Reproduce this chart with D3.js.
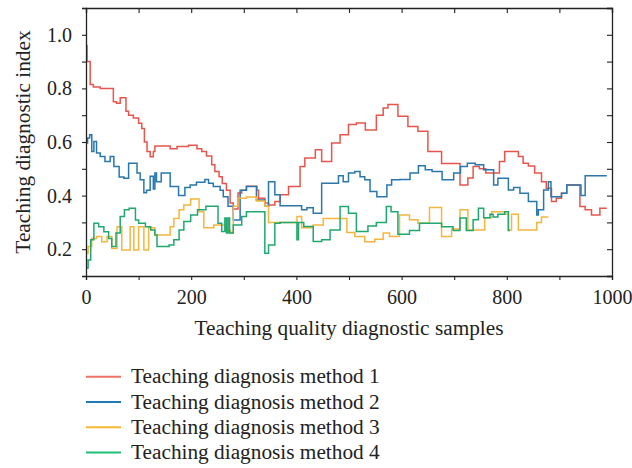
<!DOCTYPE html>
<html>
<head>
<meta charset="utf-8">
<script src="https://cdn.jsdelivr.net/npm/d3@7"></script>
<style>
  body { margin: 0; background: #ffffff; }
</style>
</head>
<body>
<div id="my_dataviz"></div>
<script>
// step series: [sample, index], each value holds until the next sample
var method1 = [[0,0.96],[2,0.90],[8,0.815],[14,0.805],[27,0.80],[52,0.75],[58,0.745],[65,0.765],[76,0.715],[81,0.70],[90,0.69],[100,0.67],[106,0.65],[111,0.60],[116,0.565],[122,0.545],[128,0.565],[131,0.585],[160,0.575],[173,0.583],[195,0.588],[211,0.575],[220,0.565],[229,0.548],[239,0.515],[245,0.49],[253,0.47],[259,0.445],[267,0.42],[274,0.372],[280,0.35],[289,0.41],[296,0.42],[305,0.435],[325,0.42],[328,0.39],[340,0.372],[347,0.365],[359,0.378],[369,0.403],[385,0.434],[407,0.509],[416,0.54],[436,0.571],[448,0.527],[467,0.596],[483,0.627],[499,0.665],[514,0.671],[531,0.645],[552,0.70],[565,0.727],[574,0.74],[593,0.696],[612,0.658],[631,0.64],[650,0.565],[676,0.52],[711,0.44],[726,0.466],[736,0.509],[748,0.50],[760,0.484],[786,0.527],[796,0.565],[822,0.546],[831,0.521],[841,0.51],[853,0.484],[866,0.452],[875,0.427],[885,0.378],[894,0.39],[904,0.409],[914,0.44],[939,0.359],[949,0.347],[961,0.328],[977,0.353],[990,0.353]];

var method2 = [[0,0.596],[3,0.615],[7,0.627],[11,0.565],[15,0.602],[20,0.559],[27,0.546],[36,0.527],[46,0.546],[53,0.509],[63,0.469],[72,0.465],[81,0.521],[97,0.484],[103,0.459],[110,0.411],[115,0.42],[122,0.472],[128,0.425],[131,0.484],[134,0.452],[143,0.484],[160,0.434],[176,0.40],[188,0.43],[198,0.44],[210,0.45],[226,0.46],[233,0.446],[242,0.434],[255,0.42],[261,0.396],[270,0.36],[280,0.309],[293,0.42],[305,0.434],[324,0.384],[340,0.36],[347,0.452],[359,0.403],[369,0.362],[410,0.347],[420,0.355],[432,0.334],[448,0.446],[480,0.474],[489,0.452],[499,0.484],[511,0.49],[521,0.47],[530,0.459],[540,0.415],[553,0.396],[572,0.44],[581,0.459],[597,0.46],[616,0.484],[632,0.511],[645,0.496],[658,0.49],[677,0.459],[699,0.484],[712,0.509],[725,0.521],[740,0.515],[756,0.496],[775,0.44],[783,0.465],[803,0.421],[813,0.43],[825,0.409],[841,0.378],[857,0.328],[860,0.347],[870,0.421],[879,0.452],[884,0.396],[904,0.409],[914,0.44],[941,0.40],[949,0.474],[990,0.474]];

var method3 = [[0,0.185],[4,0.21],[11,0.24],[20,0.247],[30,0.228],[40,0.247],[49,0.203],[59,0.284],[68,0.197],[84,0.284],[91,0.197],[100,0.284],[110,0.197],[119,0.28],[131,0.253],[160,0.284],[167,0.315],[177,0.347],[186,0.365],[199,0.387],[215,0.34],[224,0.28],[243,0.29],[264,0.27],[275,0.26],[280,0.36],[289,0.39],[305,0.395],[324,0.38],[340,0.36],[347,0.30],[369,0.30],[401,0.322],[410,0.28],[432,0.29],[451,0.315],[496,0.262],[511,0.247],[530,0.228],[549,0.237],[565,0.26],[577,0.247],[596,0.328],[615,0.31],[631,0.297],[653,0.356],[676,0.247],[695,0.275],[711,0.347],[726,0.272],[740,0.272],[758,0.317],[771,0.34],[796,0.33],[803,0.272],[809,0.33],[822,0.272],[857,0.30],[866,0.32],[879,0.32]];

var method4 = [[0,0.13],[4,0.16],[9,0.235],[15,0.297],[24,0.284],[34,0.265],[43,0.24],[49,0.21],[57,0.26],[65,0.322],[73,0.347],[82,0.353],[94,0.309],[100,0.297],[113,0.284],[123,0.272],[131,0.253],[135,0.21],[158,0.216],[167,0.235],[177,0.272],[186,0.303],[199,0.328],[212,0.347],[228,0.36],[245,0.36],[251,0.297],[258,0.266],[264,0.316],[267,0.26],[270,0.316],[273,0.26],[280,0.29],[296,0.322],[305,0.34],[340,0.185],[347,0.216],[359,0.297],[369,0.30],[401,0.235],[404,0.30],[414,0.285],[432,0.229],[448,0.235],[464,0.272],[483,0.359],[499,0.334],[514,0.266],[536,0.287],[552,0.30],[571,0.359],[580,0.34],[593,0.256],[615,0.27],[634,0.297],[676,0.284],[698,0.27],[711,0.316],[723,0.27],[736,0.31],[746,0.353],[756,0.317],[768,0.33],[774,0.32],[783,0.33],[796,0.34],[803,0.27],[806,0.27]];

var seriesNames = ["Teaching diagnosis method 1", "Teaching diagnosis method 2", "Teaching diagnosis method 3", "Teaching diagnosis method 4"];
var seriesColors = ["#e8554e", "#2a77ab", "#f4b63f", "#20a86e"];
var legendColors = ["#f07262", "#1f7ab5", "#f9b935", "#1fbf74"];

var xTicks = [0, 200, 400, 600, 800, 1000];
var xMinor = [100, 300, 500, 700, 900];
var yTicks = [0.2, 0.4, 0.6, 0.8, 1.0];
var yMinor = [0.1, 0.3, 0.5, 0.7, 0.9, 1.1];

function draw_diagnostic_chart() {

    var width = 632, height = 468;
    var margin = {left: 86, right: 20, top: 8, bottom: 192};
    var font = "'Liberation Serif', 'DejaVu Serif', serif";

    var svg = d3.select("#my_dataviz").append("svg")
        .attr("width", width)
        .attr("height", height)
        .style("background-color", "white");

    var x = d3.scaleLinear().domain([0, 1000]).range([margin.left, width - margin.right]);
    var y = d3.scaleLinear().domain([0.1, 1.1]).range([height - margin.bottom, margin.top]);

    var line = d3.line()
        .x(function(d) { return x(d[0]); })
        .y(function(d) { return y(d[1]); })
        .curve(d3.curveStepAfter);

    var data = [method1, method2, method3, method4];

    svg.append("g")
        .attr("class", "lines")
        .selectAll("path")
        .data(data)
        .enter()
        .append("path")
        .attr("d", line)
        .attr("fill", "none")
        .attr("stroke", function(d, i) { return seriesColors[i]; })
        .attr("stroke-width", 1.5);

    // axes: outward ticks on left/bottom, inward mirrored ticks on top/right
    var bottom = svg.append("g")
        .attr("transform", "translate(0," + y.range()[0] + ")")
        .call(d3.axisBottom(x).tickValues(xTicks.concat(xMinor)).tickSize(4).tickPadding(10)
            .tickFormat(function(d) { return xTicks.indexOf(d) >= 0 ? d : ""; }));

    var left = svg.append("g")
        .attr("transform", "translate(" + x.range()[0] + ",0)")
        .call(d3.axisLeft(y).tickValues(yTicks.concat(yMinor)).tickSize(4).tickPadding(10)
            .tickFormat(function(d) { return yTicks.some(function(t) { return Math.abs(t - d) < 1e-9; }) ? d3.format(".1f")(d) : ""; }));

    var top = svg.append("g")
        .attr("transform", "translate(0," + y.range()[1] + ")")
        .call(d3.axisTop(x).tickValues(xTicks.concat(xMinor)).tickSize(-5).tickFormat(""));

    var right = svg.append("g")
        .attr("transform", "translate(" + x.range()[1] + ",0)")
        .call(d3.axisRight(y).tickValues(yTicks.concat(yMinor)).tickSize(-5).tickFormat(""));

    [bottom, left, top, right].forEach(function(g) {
        g.attr("font-family", font).attr("font-size", 20);
        g.select(".domain").attr("stroke", "#222").attr("stroke-width", 1.3);
        g.selectAll(".tick line").attr("stroke", "#222").attr("stroke-width", 1.1);
        g.selectAll("text")
            .style("font-family", font)
            .style("font-size", "20px")
            .attr("fill", "#222");
    });

    svg.append("text")
        .attr("x", (x.range()[0] + x.range()[1]) / 2)
        .attr("y", 335)
        .style("text-anchor", "middle")
        .style("font-family", font)
        .style("font-size", "21.3px")
        .attr("fill", "#222")
        .text("Teaching quality diagnostic samples");

    svg.append("text")
        .attr("transform", "rotate(-90)")
        .attr("x", -142)
        .attr("y", 30)
        .style("text-anchor", "middle")
        .style("font-family", font)
        .style("font-size", "21.3px")
        .attr("fill", "#222")
        .text("Teaching diagnostic index");

    var legend = svg.append("g")
        .attr("class", "legend")
        .selectAll("g")
        .data(seriesNames)
        .enter()
        .append("g")
        .attr("transform", function(d, i) { return "translate(86," + (376.7 + i * 25.3) + ")"; });

    legend.append("line")
        .attr("x1", 0)
        .attr("x2", 35)
        .attr("stroke", function(d, i) { return legendColors[i]; })
        .attr("stroke-width", 2);

    legend.append("text")
        .attr("x", 45)
        .attr("y", 6.5)
        .style("font-family", font)
        .style("font-size", "21.3px")
        .attr("fill", "#222")
        .text(function(d) { return d; });
}

draw_diagnostic_chart();
</script>
</body>
</html>
